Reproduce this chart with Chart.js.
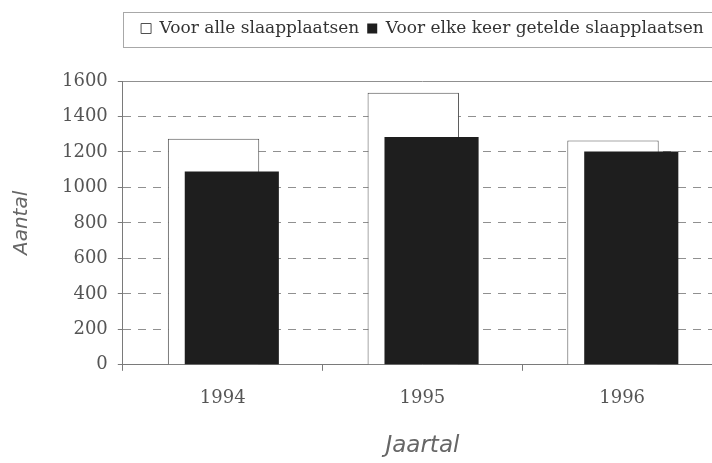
<!DOCTYPE html>
<html>
<head>
<meta charset="utf-8">
<script src="https://cdn.jsdelivr.net/npm/chart.js@4/dist/chart.umd.min.js"></script>
<style>
  html, body { margin: 0; padding: 0; background: #ffffff; overflow: hidden; }
  #wrap { width: 712px; height: 463px; overflow: hidden; }
  canvas { display: block; }
</style>
</head>
<body>
<div id="wrap"><canvas id="c" width="730" height="463"></canvas></div>
<script>
// ---- data ----
const categories = ['1994', '1995', '1996'];
const seriesNames = ['Voor alle slaapplaatsen', 'Voor elke keer getelde slaapplaatsen'];
const allPlaces = [1275, 1534, 1265];
const countedPlaces = [1090, 1284, 1203];
const yTicks = [0, 200, 400, 600, 800, 1000, 1200, 1400, 1600];
const yTitle = 'Aantal';
const xTitle = 'Jaartal';

// frame around the legend + gap below it
const legendFrame = {
  id: 'legendFrame',
  beforeInit(chart) {
    const lg = chart.legend;
    if (!lg) return;
    const orig = lg.fit;
    lg.fit = function () {
      orig.call(this);
      this._frameH = this.height;
      this.height += 34;
    };
  },
  afterDraw(chart) {
    const lg = chart.legend;
    if (!lg) return;
    const ctx = chart.ctx;
    ctx.save();
    ctx.strokeStyle = '#a8a8a8';
    ctx.lineWidth = 1;
    ctx.strokeRect(Math.round(lg.left) + 0.5, Math.round(lg.top) + 0.5, lg.width, lg._frameH);
    ctx.restore();
  }
};

// draw datasets in their natural order so the second series overlaps the first
const forwardDraw = {
  id: 'forwardDraw',
  beforeDatasetsDraw(chart) {
    const metas = chart.getSortedVisibleDatasetMetas();
    for (const m of metas) m.controller.draw();
    return false;
  }
};

new Chart(document.getElementById('c'), {
  type: 'bar',
  data: {
    labels: categories,
    datasets: [
      {
        label: seriesNames[0],
        data: allPlaces,
        backgroundColor: '#ffffff',
        borderColor: '#505050',
        borderWidth: 1,
        categoryPercentage: 0.183,
        barPercentage: 5.0
      },
      {
        label: seriesNames[1],
        data: countedPlaces,
        backgroundColor: '#1e1e1e',
        borderColor: '#1e1e1e',
        borderWidth: 0,
        categoryPercentage: 0.183,
        barPercentage: 5.15
      }
    ]
  },
  options: {
    responsive: false,
    animation: false,
    layout: { padding: { top: 12, left: 0, right: 8, bottom: 0 } },
    plugins: {
      legend: {
        display: true,
        position: 'top',
        align: 'center',
        fullSize: false,
        labels: {
          boxWidth: 10,
          boxHeight: 10,
          padding: 8,
          color: '#333333',
          font: { family: 'DejaVu Serif', size: 17 }
        }
      },
      tooltip: { enabled: false }
    },
    scales: {
      x: {
        offset: true,
        grid: {
          offset: true,
          drawOnChartArea: false,
          drawTicks: true,
          tickLength: 6,
          tickColor: '#7a7a7a'
        },
        border: { display: true, color: '#7a7a7a', width: 1 },
        ticks: {
          color: '#555555',
          padding: 17,
          font: { family: 'DejaVu Serif', size: 18 }
        },
        title: {
          display: true,
          text: xTitle,
          color: '#666666',
          padding: { top: 6, bottom: 3 },
          font: { family: 'DejaVu Sans', size: 23, style: 'italic' }
        }
      },
      y: {
        min: 0,
        max: 1600,
        afterBuildTicks(scale) {
          scale.ticks = yTicks.map(v => ({ value: v }));
        },
        grid: {
          color: '#909090',
          lineWidth: 1,
          drawTicks: true,
          tickLength: 5,
          tickColor: '#7a7a7a',
          tickBorderDash: []
        },
        border: {
          display: true,
          color: '#7a7a7a',
          width: 1,
          dash: (ctx) => {
            if (ctx.tick && (ctx.tick.value === 1600 || ctx.tick.value === 0)) return [];
            return [8, 7];
          }
        },
        ticks: {
          color: '#555555',
          padding: 10,
          font: { family: 'DejaVu Serif', size: 18 },
          callback: (v) => String(v)
        },
        title: {
          display: true,
          text: yTitle,
          color: '#666666',
          padding: { top: 10, bottom: 18 },
          font: { family: 'DejaVu Sans', size: 20, style: 'italic' }
        }
      }
    }
  },
  plugins: [legendFrame, forwardDraw]
});
</script>
</body>
</html>
